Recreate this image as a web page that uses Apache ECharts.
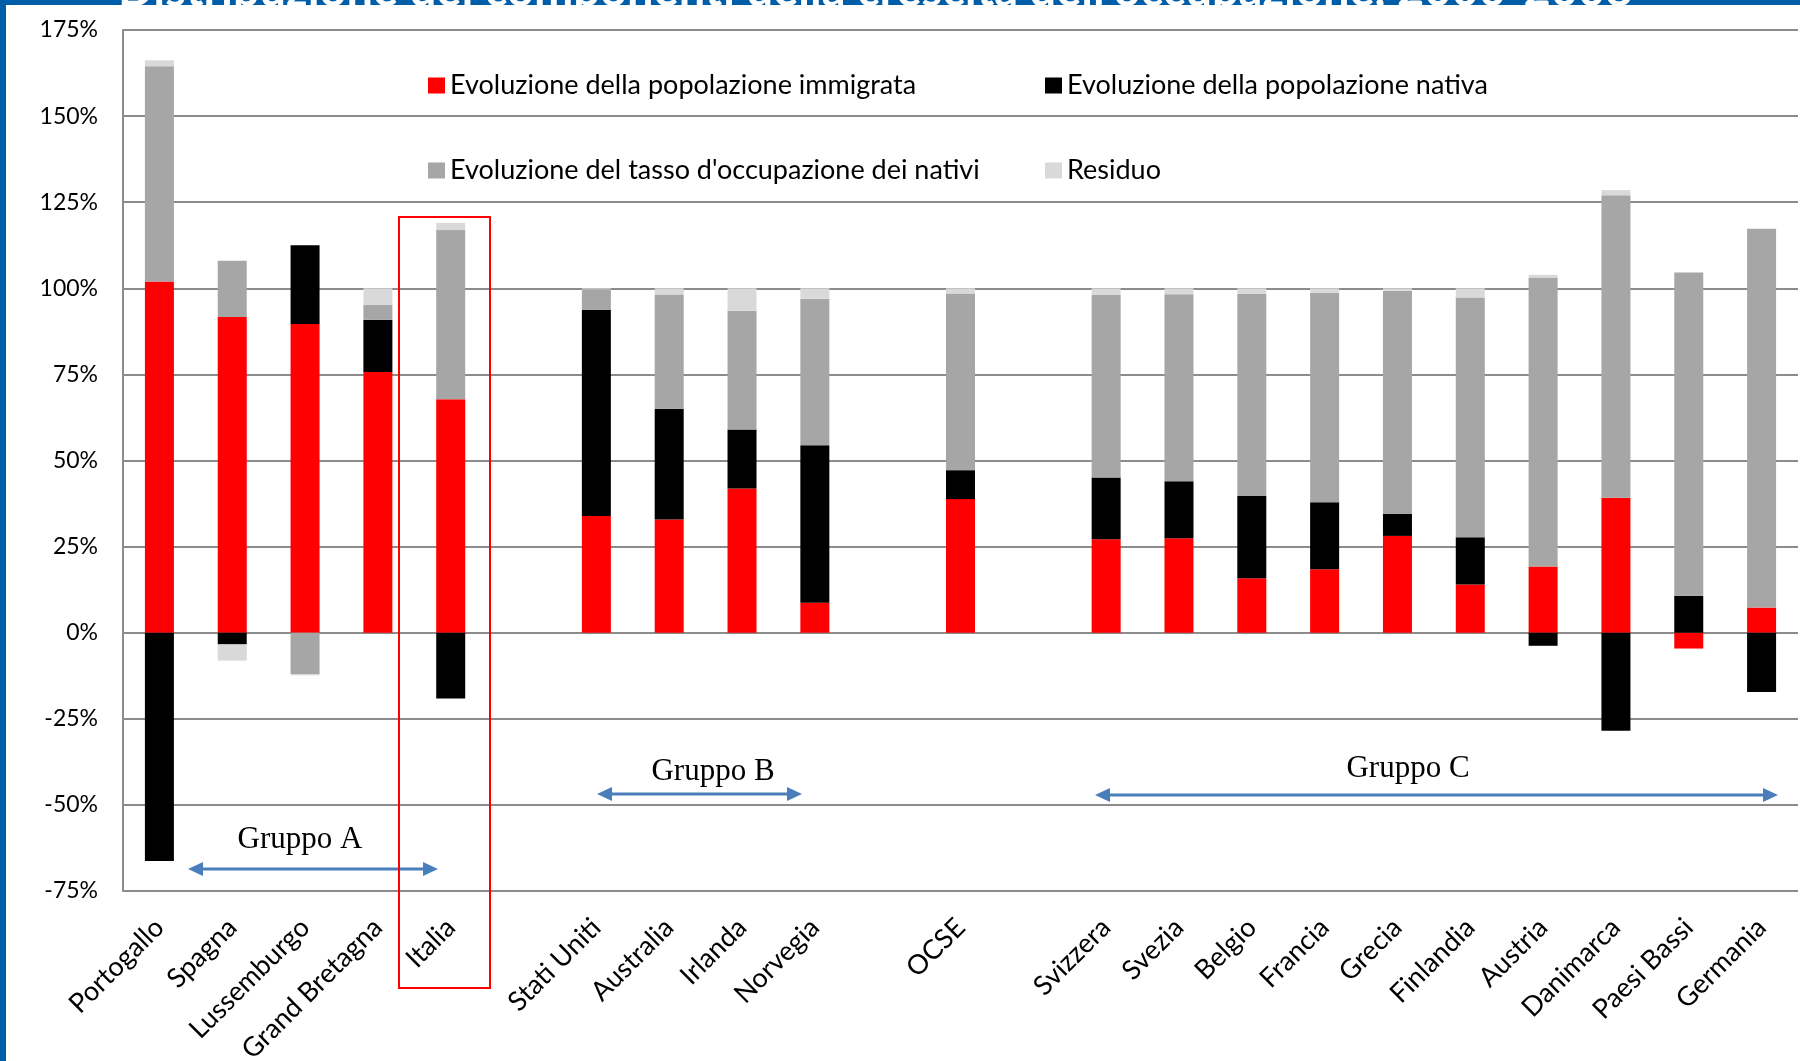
<!DOCTYPE html>
<html>
<head>
<meta charset="utf-8">
<script src="https://cdn.jsdelivr.net/npm/echarts@6/dist/echarts.min.js"></script>
<style>
  html, body { margin: 0; padding: 0; background: #fff; }
  #chart { width: 1800px; height: 1061px; }
</style>
</head>
<body>
<div id="chart"></div>
<script>
// categorie (le voci vuote sono gli spazi tra i gruppi)
const categorie = ['Portogallo', 'Spagna', 'Lussemburgo', 'Grand Bretagna', 'Italia', ' ',
  'Stati Uniti', 'Australia', 'Irlanda', 'Norvegia', '  ', 'OCSE', '   ',
  'Svizzera', 'Svezia', 'Belgio', 'Francia', 'Grecia', 'Finlandia', 'Austria',
  'Danimarca', 'Paesi Bassi', 'Germania'];

const immigrata = [102.0, 91.7, 89.6, 75.7, 67.8, null, 33.9, 32.9, 41.9, 8.7, null, 38.8, null,
  27.1, 27.4, 15.8, 18.4, 28.1, 14.0, 19.2, 39.2, -4.6, 7.3];
const nativa = [-66.3, -3.4, 22.9, 15.2, -19.1, null, 59.8, 32.1, 17.1, 45.7, null, 8.4, null,
  18.0, 16.6, 23.9, 19.5, 6.4, 13.7, -3.8, -28.5, 10.7, -17.2];
const tasso = [62.5, 16.3, -12.0, 4.3, 49.1, null, 6.0, 33.2, 34.5, 42.6, null, 51.3, null,
  53.0, 54.3, 58.7, 60.8, 64.8, 69.6, 83.9, 87.8, 93.9, 110.0];
const residuo = [1.7, -4.7, -0.4, 4.8, 2.1, null, 0.3, 1.8, 6.5, 3.0, null, 1.5, null,
  1.9, 1.7, 1.6, 1.3, 0.7, 2.7, 0.8, 1.5, 0.0, 0.0];

const nomi = [
  'Evoluzione della popolazione immigrata',
  'Evoluzione della popolazione nativa',
  "Evoluzione del tasso d'occupazione dei nativi",
  'Residuo'
];
const colori = ['#ff0000', '#000000', '#a6a6a6', '#d9d9d9'];

const titolo = "Distribuzione dei componenti della crescita dell'occupazione, 2000-2008";

const chart = echarts.init(document.getElementById('chart'));

const legendPos = [[423, 67], [1040, 67], [423, 152], [1040, 152]];

const freccia = (x1, x2, y) => ({
  type: 'group',
  children: [
    { type: 'line', shape: { x1: x1 + 12, y1: y, x2: x2 - 12, y2: y },
      style: { stroke: '#4a7ebb', lineWidth: 3 } },
    { type: 'polygon', shape: { points: [[x1, y], [x1 + 15, y - 7], [x1 + 15, y + 7]] },
      style: { fill: '#4a7ebb' } },
    { type: 'polygon', shape: { points: [[x2, y], [x2 - 15, y - 7], [x2 - 15, y + 7]] },
      style: { fill: '#4a7ebb' } }
  ]
});

const gruppo = (testo, x, y) => ({
  type: 'text', x: x, y: y,
  style: { text: testo, fill: '#000', font: '31px "Liberation Serif"', align: 'center', verticalAlign: 'middle' }
});

const option = {
  animation: false,
  grid: { left: 123, right: 2, top: 30, bottom: 170, containLabel: false, outerBoundsMode: 'none' },
  legend: nomi.map((n, i) => ({
    data: [n],
    left: legendPos[i][0],
    top: legendPos[i][1],
    icon: 'rect',
    itemWidth: 17,
    itemHeight: 16,
    itemGap: 6,
    textStyle: { fontFamily: 'Lato', fontSize: 27, color: '#000', lineHeight: 27 }
  })),
  xAxis: {
    type: 'category',
    data: categorie,
    axisLine: { show: false },
    axisTick: { show: false },
    axisLabel: {
      interval: 0,
      rotate: 45,
      margin: 32,
      fontFamily: 'Lato',
      fontSize: 27,
      color: '#000'
    }
  },
  yAxis: {
    type: 'value',
    min: -75,
    max: 175,
    interval: 25,
    axisLine: { show: true, lineStyle: { color: '#8c8c8c', width: 2 } },
    axisTick: { show: false },
    axisLabel: {
      formatter: '{value}%',
      margin: 25,
      fontFamily: 'Lato',
      fontSize: 23,
      color: '#000'
    },
    splitLine: { lineStyle: { color: '#8c8c8c', width: 2 } }
  },
  series: [immigrata, nativa, tasso, residuo].map((d, i) => ({
    name: nomi[i],
    type: 'bar',
    stack: 'tot',
    barWidth: 29,
    data: d,
    itemStyle: { color: colori[i] }
  })),
  graphic: [
    // bordo blu e titolo tagliato in alto
    { type: 'rect', shape: { x: 0, y: 0, width: 1800, height: 5 }, style: { fill: '#005da8' }, z: 10 },
    { type: 'rect', shape: { x: 0, y: 0, width: 6, height: 1061 }, style: { fill: '#005da8' }, z: 10 },
    { type: 'text', x: 118, y: 14, z: 11,
      style: { text: titolo, fill: '#fff', font: 'bold 47px Lato', verticalAlign: 'bottom' } },
    // riquadro Italia
    { type: 'rect', shape: { x: 399, y: 217, width: 91, height: 771 },
      style: { fill: 'none', stroke: '#ff0000', lineWidth: 2 }, z: 5 },
    freccia(188, 438, 869),
    freccia(597, 802, 794),
    freccia(1095, 1778, 795),
    gruppo('Gruppo A', 300, 840),
    gruppo('Gruppo B', 713, 772),
    gruppo('Gruppo C', 1408, 769)
  ]
};

chart.setOption(option);
</script>
</body>
</html>
